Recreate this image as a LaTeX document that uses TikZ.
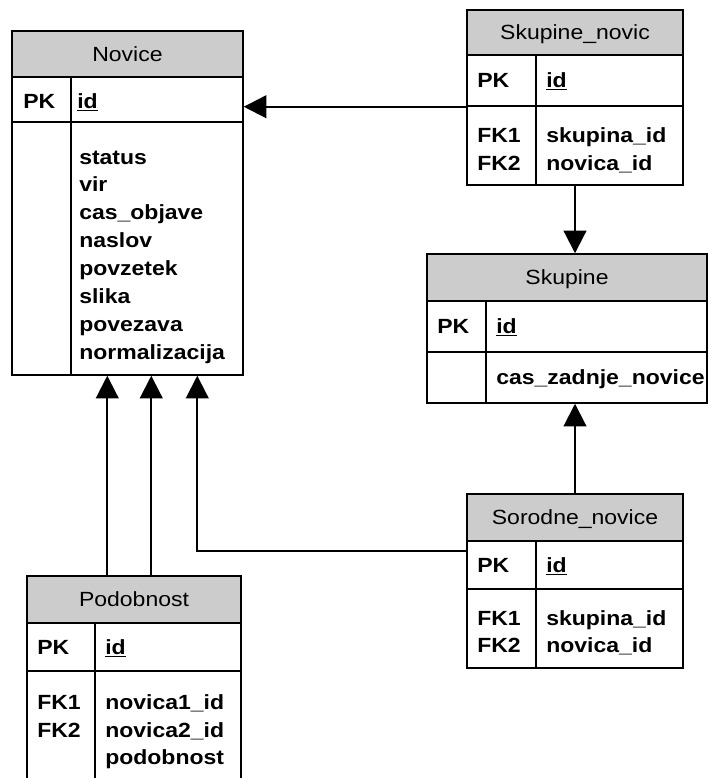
\documentclass[tikz,border=0pt]{standalone}
\usepackage{fontspec}
\setmainfont[FakeStretch=1.12]{Liberation Sans}
\usetikzlibrary{arrows.meta,fit,calc}
\newcommand{\crka}{\fontsize{15.4pt}{20pt}\selectfont}
\tikzset{
  tabla/.style={draw, line width=1.1pt, inner sep=0pt},
  glava/.style={tabla, fill=black!20},
  naslov/.style={inner sep=0pt, text height=11.5pt, text depth=1pt, font=\crka},
  polje/.style={anchor=west, inner sep=0pt, text height=11.5pt, text depth=1pt, font=\crka\bfseries},
  kljuc/.style={-{Triangle[length=17pt,width=17pt]}, line width=1.6pt},
}
\begin{document}
\begin{tikzpicture}[x=0.75pt, y=-0.75pt]
  \useasboundingbox (0,0) rectangle (712,778);
  \clip (0,0) rectangle (712,778);
  % tabela Novice
  \node[glava, fit={(12,31) (243,77)}] (nov-h) {};
  \node[tabla, fit={(12,77) (243,122)}] (nov-pk) {};
  \node[tabla, fit={(12,122) (243,375)}] (nov-f) {};
  \draw[line width=1.1pt] (71,77) -- (71,375);
  \node[naslov] (nov-t) at (nov-h) {Novice};
  \node[polje] (nov-pkl) at (23,101) {PK};
  \node[polje] (nov-id) at (77,101) {\underline{id}};
  \foreach \t [count=\i from 0] in {status, vir, cas\_objave, naslov, povzetek, slika, povezava, normalizacija}
    \node[polje] (nov-\i) at (79,157+27.86*\i) {\t};
  % tabela Skupine_novic
  \node[glava, fit={(467,10) (683,55)}] (snov-h) {};
  \node[tabla, fit={(467,55) (683,106)}] (snov-pk) {};
  \node[tabla, fit={(467,106) (683,185)}] (snov-f) {};
  \draw[line width=1.1pt] (536,55) -- (536,185);
  \node[naslov] (snov-t) at (snov-h) {Skupine\_novic};
  \node[polje] (snov-pkl) at (477,80) {PK};
  \node[polje] (snov-id) at (546,80) {\underline{id}};
  \node[polje] (snov-fk1) at (477,135) {FK1};
  \node[polje] (snov-fk2) at (477,163) {FK2};
  \node[polje] (snov-s) at (546,135) {skupina\_id};
  \node[polje] (snov-n) at (546,163) {novica\_id};
  % tabela Skupine
  \node[glava, fit={(427,254) (707,301)}] (skup-h) {};
  \node[tabla, fit={(427,301) (707,352)}] (skup-pk) {};
  \node[tabla, fit={(427,352) (707,403)}] (skup-f) {};
  \draw[line width=1.1pt] (486,301) -- (486,403);
  \node[naslov] (skup-t) at (skup-h) {Skupine};
  \node[polje] (skup-pkl) at (437,326) {PK};
  \node[polje] (skup-id) at (496,326) {\underline{id}};
  \node[polje] (skup-c) at (496,377) {cas\_zadnje\_novice};
  % tabela Sorodne_novice
  \node[glava, fit={(467,494) (683,541)}] (sor-h) {};
  \node[tabla, fit={(467,541) (683,589)}] (sor-pk) {};
  \node[tabla, fit={(467,589) (683,668)}] (sor-f) {};
  \draw[line width=1.1pt] (536,541) -- (536,668);
  \node[naslov] (sor-t) at (sor-h) {Sorodne\_novice};
  \node[polje] (sor-pkl) at (477,565) {PK};
  \node[polje] (sor-id) at (546,565) {\underline{id}};
  \node[polje] (sor-fk1) at (477,618) {FK1};
  \node[polje] (sor-fk2) at (477,645) {FK2};
  \node[polje] (sor-s) at (546,618) {skupina\_id};
  \node[polje] (sor-n) at (546,645) {novica\_id};
  % tabela Podobnost (spodaj odrezana)
  \node[glava, fit={(27,576) (241,623)}] (pod-h) {};
  \node[tabla, fit={(27,623) (241,671)}] (pod-pk) {};
  \node[tabla, fit={(27,671) (241,810)}] (pod-f) {};
  \draw[line width=1.1pt] (95,623) -- (95,810);
  \node[naslov] (pod-t) at (pod-h) {Podobnost};
  \node[polje] (pod-pkl) at (37,647) {PK};
  \node[polje] (pod-id) at (105,647) {\underline{id}};
  \node[polje] (pod-fk1) at (37,702) {FK1};
  \node[polje] (pod-fk2) at (37,730) {FK2};
  \node[polje] (pod-n1) at (105,702) {novica1\_id};
  \node[polje] (pod-n2) at (105,730) {novica2\_id};
  \node[polje] (pod-p) at (105,757) {podobnost};
  % povezave (tuji kljuci)
  \draw[kljuc] (snov-pk.south west) -- (snov-pk.south west -| nov-pk.east);
  \draw[kljuc] (snov-f.south) -- (snov-f.south |- skup-h.north);
  \draw[kljuc] (sor-h.north) -- (sor-h.north |- skup-f.south);
  \coordinate (sor-k) at ($(sor-pk.north west)+(0,11)$);
  \coordinate (nov-k) at ($(nov-f.south west)+(186,0)$);
  \draw[kljuc] (sor-k) -| (nov-k);
  \coordinate (pod-k1) at ($(pod-h.north west)+(81,0)$);
  \coordinate (pod-k2) at ($(pod-h.north west)+(125,0)$);
  \draw[kljuc] (pod-k1) -- (pod-k1 |- nov-f.south);
  \draw[kljuc] (pod-k2) -- (pod-k2 |- nov-f.south);
\end{tikzpicture}
\end{document}
